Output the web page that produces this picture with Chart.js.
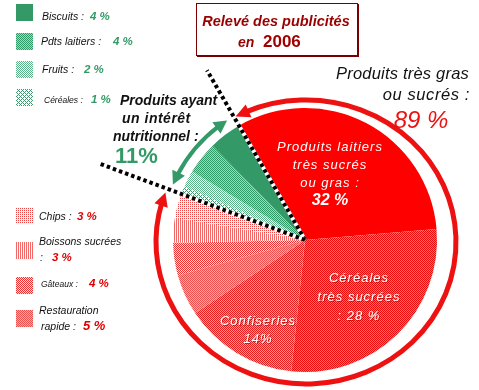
<!DOCTYPE html>
<html>
<head>
<meta charset="utf-8">
<script src="https://cdn.jsdelivr.net/npm/chart.js@4.4.0/dist/chart.umd.min.js"></script>
<style>
  body { margin: 0; background: #fff; }
  #wrap { position: relative; width: 479px; height: 390px; overflow: hidden; font-family: "Liberation Sans", Arial, sans-serif; }
  #c { position: absolute; left: 0; top: 0; }
  .t { position: absolute; white-space: nowrap; line-height: 1; font-style: italic; }
</style>
</head>
<body>
<div id="wrap"><canvas id="c" width="479" height="390"></canvas></div>
<script>
// slices, clockwise from the top dotted line
var categories = ['Produits laitiers très sucrés ou gras', 'Céréales très sucrées', 'Confiseries',
  'Restauration rapide', 'Gâteaux', 'Boissons sucrées', 'Chips',
  'Céréales', 'Fruits', 'Pdts laitiers', 'Biscuits'];
var values = [32, 28, 14, 5, 4, 3, 3, 1, 2, 4, 4];
var badGroup = [0, 1, 2, 3, 4, 5, 6];
var goodGroup = [7, 8, 9, 10];
var titleText = ['Relevé des publicités', 'en', '2006'];
var badTitle = ['Produits très gras', 'ou sucrés :'];
var goodTitle = ['Produits ayant', 'un intérêt', 'nutritionnel :'];

var wrap = document.getElementById('wrap');
var canvas = document.getElementById('c');
var mainCtx = canvas.getContext('2d');

function pat(rows, fg, bg) {
  var cv = document.createElement('canvas');
  cv.width = rows[0].length;
  cv.height = rows.length;
  var cx = cv.getContext('2d');
  cx.fillStyle = bg;
  cx.fillRect(0, 0, cv.width, cv.height);
  cx.fillStyle = fg;
  for (var y = 0; y < rows.length; y++) {
    for (var x = 0; x < rows[y].length; x++) {
      if (rows[y][x] == '1') cx.fillRect(x, y, 1, 1);
    }
  }
  return mainCtx.createPattern(cv, 'repeat');
}

var fills = [
  '#ff0000',
  pat(['10', '01'], '#ee0a0a', '#ff7070'),
  pat(['10', '01'], '#e81c1c', '#ff9a9a'),
  pat(['10', '01'], '#ee5050', '#ffa8a8'),
  pat(['10', '01'], '#ee3030', '#ffe0e0'),
  pat(['10', '10'], '#f06a6a', '#ffffff'),
  pat(['10', '00'], '#ee4444', '#ffffff'),
  pat(['1000', '0101', '0010', '0101'], '#3a9e6e', '#ffffff'),
  pat(['10', '01'], '#5ab488', '#ffffff'),
  pat(['10', '01'], '#2e9966', '#a6d8bf'),
  '#339966'
];

function sum(idx) {
  var s = 0;
  for (var i = 0; i < idx.length; i++) s += values[idx[i]];
  return s;
}

// legend layout: swatch top, text x / baseline, number x
var legendLayout = [
  { i: 10, sy: 4, tx: 42, base: 20, name: 'Biscuits :', nx: 90, size: 10.5 },
  { i: 9, sy: 33, tx: 41, base: 45, name: 'Pdts laitiers :', nx: 113, size: 10.5 },
  { i: 8, sy: 61, tx: 42, base: 73, name: 'Fruits :', nx: 84, size: 10.5 },
  { i: 7, sy: 89, tx: 44, base: 103, name: 'Céréales :', nx: 91, size: 8.5 },
  { i: 6, sy: 207, tx: 39, base: 220, name: 'Chips :', nx: 77, size: 10.5 },
  { i: 5, sy: 242, tx: 39, base: 245, name: 'Boissons sucrées', nx: 52, nbase: 261, size: 10.5, colon: true },
  { i: 4, sy: 277, tx: 41, base: 287, name: 'Gâteaux :', nx: 89, size: 8.5 },
  { i: 3, sy: 310, tx: 39, base: 314, name: 'Restauration', nx: 83, nbase: 330, size: 10.5, second: 'rapide :' }
];

function txt(s, x, base, size, css, align) {
  var d = document.createElement('div');
  d.className = 't';
  d.textContent = s;
  d.style.fontSize = size + 'px';
  d.style.top = (base - 0.85 * size) + 'px';
  if (align == 'c') {
    d.style.left = (x - 150) + 'px';
    d.style.width = '300px';
    d.style.textAlign = 'center';
  } else if (align == 'r') {
    d.style.right = (479 - x) + 'px';
  } else {
    d.style.left = x + 'px';
  }
  if (css) d.style.cssText += css;
  wrap.appendChild(d);
  return d;
}

// legend text
for (var k = 0; k < legendLayout.length; k++) {
  var L = legendLayout[k];
  var green = goodGroup.indexOf(L.i) >= 0;
  var col = green ? '#339966' : '#e00000';
  txt(L.name, L.tx, L.base, L.size, 'color:#111;');
  var nb = L.nbase || L.base;
  if (L.colon) txt(':', 40, nb, 10.5, 'color:#111;');
  if (L.second) txt(L.second, 41, nb, 10.5, 'color:#111;');
  txt(values[L.i] + ' %', L.nx, nb + 0.5, L.i == 3 ? 13 : 11.5, 'font-weight:bold;color:' + col + ';');
}

// title box
var box = document.createElement('div');
box.style.cssText = 'position:absolute;left:196px;top:3px;width:160px;height:51px;border:1px solid #7a0000;box-shadow:1px 1px 0 #7a0000;';
wrap.appendChild(box);
txt(titleText[0], 276, 26, 14.5, 'font-weight:bold;color:#990000;', 'c');
txt(titleText[1], 238, 47, 14, 'font-weight:bold;color:#990000;');
txt(titleText[2], 263, 47, 17, 'font-weight:bold;font-style:normal;color:#a00000;');

// group annotations
txt(badTitle[0], 469, 79, 16.5, 'color:#111;letter-spacing:0.2px;', 'r');
txt(badTitle[1], 470, 100, 16.5, 'color:#111;letter-spacing:0.6px;', 'r');
txt(sum(badGroup) + ' %', 421, 128, 24, 'color:#ee1111;', 'c');
txt(goodTitle[0], 120, 105, 14, 'font-weight:bold;color:#111;');
txt(goodTitle[1], 122, 123, 14, 'font-weight:bold;color:#111;letter-spacing:0.5px;');
txt(goodTitle[2], 113, 141, 14, 'font-weight:bold;color:#111;');
txt(sum(goodGroup) + '%', 115, 164, 22, 'font-weight:bold;font-style:normal;color:#339966;');

// labels inside the pie
var inner = 'color:#fff;letter-spacing:1px;';
var emb = 'color:#fff;letter-spacing:1px;text-shadow:1px 1px 0 rgba(150,0,0,0.6);';
txt('Produits laitiers', 330, 151, 13, inner, 'c');
txt('très sucrés', 330, 169, 13, inner, 'c');
txt('ou gras :', 330, 187, 13, inner, 'c');
txt(values[0] + ' %', 330, 206, 16, 'color:#fff;font-weight:bold;', 'c');
txt('Céréales', 359, 282, 13, emb, 'c');
txt('très sucrées', 359, 301, 13, emb, 'c');
txt(': ' + values[1] + ' %', 359, 320, 13, emb, 'c');
txt('Confiseries', 258, 325, 13, emb, 'c');
txt(values[2] + '%', 258, 343, 13, emb, 'c');

function arrowArc(ctx, cx, cy, rx, ry, t0, t1, color, lw, head, hw) {
  var d = head / ((rx + ry) / 2);
  ctx.save();
  ctx.strokeStyle = color;
  ctx.fillStyle = color;
  ctx.lineWidth = lw;
  ctx.beginPath();
  ctx.ellipse(cx, cy, rx, ry, 0, t0 + d * 0.8, t1 - d * 0.8, false);
  ctx.stroke();
  function headAt(t, tb) {
    var tx = cx + rx * Math.cos(t), ty = cy + ry * Math.sin(t);
    var bx = cx + rx * Math.cos(tb), by = cy + ry * Math.sin(tb);
    var ux = tx - bx, uy = ty - by;
    var n = Math.sqrt(ux * ux + uy * uy);
    ux /= n; uy /= n;
    ctx.beginPath();
    ctx.moveTo(tx, ty);
    ctx.lineTo(bx - uy * hw, by + ux * hw);
    ctx.lineTo(bx + uy * hw, by - ux * hw);
    ctx.closePath();
    ctx.fill();
  }
  headAt(t1, t1 - d);
  headAt(t0, t0 + d);
  ctx.restore();
}

function dotted(ctx, cx, cy, a, len) {
  var ex = cx + Math.cos(a) * len, ey = cy + Math.sin(a) * len;
  ctx.save();
  ctx.lineWidth = 4;
  ctx.strokeStyle = '#fff';
  ctx.beginPath();
  ctx.moveTo(cx, cy);
  ctx.lineTo(ex, ey);
  ctx.stroke();
  ctx.strokeStyle = '#000';
  ctx.setLineDash([3.5, 3]);
  ctx.beginPath();
  ctx.moveTo(cx, cy);
  ctx.lineTo(ex, ey);
  ctx.stroke();
  ctx.restore();
}

var overlay = {
  id: 'overlay',
  afterDraw: function (chart) {
    var ctx = chart.ctx;
    var arcs = chart.getDatasetMeta(0).data;
    var cx = arcs[0].x, cy = arcs[0].y;
    var deg = Math.PI / 180;

    dotted(ctx, cx, cy, arcs[0].startAngle, 196);
    dotted(ctx, cx, cy, arcs[7].startAngle, 220);

    // red ring around the 89 %
    arrowArc(ctx, cx + 1, cy + 2, 150, 142, arcs[0].startAngle + 2 * deg, arcs[6].endAngle, '#ee1111', 5, 14, 7);
    // green double arrow over the 11 %
    arrowArc(ctx, cx + 1, cy + 2, 145, 145, arcs[7].startAngle + 3 * deg, arcs[10].endAngle - 3 * deg, '#339966', 4, 13, 7);

    // legend swatches
    for (var k = 0; k < legendLayout.length; k++) {
      ctx.fillStyle = fills[legendLayout[k].i];
      ctx.fillRect(16, legendLayout[k].sy, 17, 17);
    }
  }
};

new Chart(canvas, {
  type: 'pie',
  data: {
    labels: categories,
    datasets: [{ data: values, backgroundColor: fills, borderWidth: 0 }]
  },
  options: {
    responsive: false,
    animation: false,
    events: [],
    rotation: -30,
    layout: { padding: { left: 173, right: 42, top: 108, bottom: 18 } },
    plugins: { legend: { display: false }, tooltip: { enabled: false } }
  },
  plugins: [overlay]
});
</script>
</body>
</html>
